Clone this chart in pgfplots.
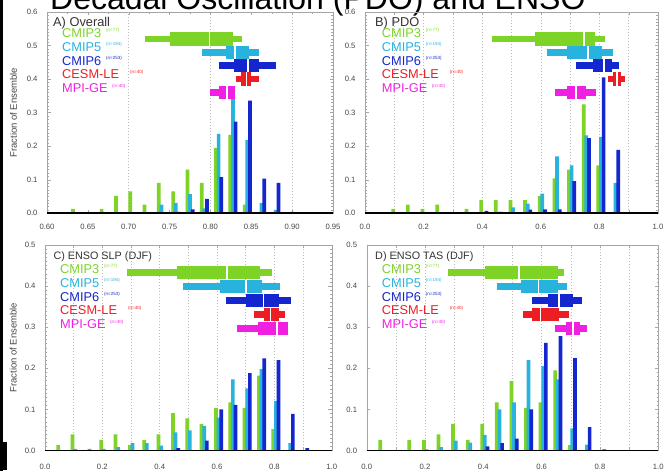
\documentclass[border=0pt]{standalone}
\usepackage{fontspec}
\setmainfont{Liberation Sans}
\usepackage{pgfplots}
\pgfplotsset{compat=1.18}

\definecolor{cthree}{RGB}{125,211,38}
\definecolor{cfive}{RGB}{40,178,222}
\definecolor{csix}{RGB}{20,38,205}
\definecolor{ccesm}{RGB}{236,30,36}
\definecolor{cmpi}{RGB}{240,32,226}
\definecolor{framegray}{RGB}{165,165,165}
\definecolor{tickgray}{RGB}{70,70,70}

\pgfplotsset{
  panel/.style={
    scale only axis, clip=false, anchor=south west,
    axis line style={framegray, line width=0.4pt},
    tick style={framegray, line width=0.4pt},
    tick align=inside,
    major tick length=3.5pt, minor tick length=1.6pt,
    ticklabel style={font=\fontsize{7.7}{9}\selectfont, text=tickgray},
    /pgf/number format/assume math mode=true,
    xticklabel style={yshift=-7.5pt},
    yticklabel style={xshift=-6pt, /pgf/number format/fixed,
      /pgf/number format/fixed zerofill, /pgf/number format/precision=1},
    minor y tick num=9,
    grid style={gray!55, line width=0.5pt, dash pattern=on 0.8pt off 2.2pt},
    extra x tick labels={},
    extra x tick style={grid=major},
  },
  unitpanel/.style={
    panel, xmin=0, xmax=1,
    xtick={0,0.2,0.4,0.6,0.8,1}, minor x tick num=1,
    extra x ticks={0.1,0.2,0.3,0.4,0.5,0.6,0.7,0.8,0.9},
    xticklabel style={/pgf/number format/fixed, /pgf/number format/fixed zerofill,
      /pgf/number format/precision=1},
  },
  hist/.style={ybar, bar width=3.7pt, draw=none, fill=#1},
  fracl/.style={ylabel={Fraction of Ensemble},
    ylabel style={at={(axis description cs:#1,0.5)}, anchor=center,
      font=\fontsize{9.5}{11}\selectfont, text=tickgray}},
}

% letter-value box: colour, row, lower end, box start, median, box end, upper end
\newcommand{\lvbox}[7]{%
  \addplot[#1, line width=6.5pt] coordinates {(#3,#2) (#7,#2)};
  \addplot[#1, line width=13.5pt] coordinates {(#4,#2) (#6,#2)};
  \addplot[white, only marks, mark=|, mark size=6.75pt, mark options={line width=1.6pt}]
    coordinates {(#5,#2)};
}
\newcommand{\zeroline}[2]{%
  \addplot[black, line width=1.6pt] coordinates {(#1,0) (#2,0)};
}

\begin{document}
\begin{tikzpicture}
\begin{scope}[x=1pt, y=1pt]
\node[anchor=base west, inner sep=0pt, font=\fontsize{32}{36}\selectfont] at (50,461.5)
  {Decadal Oscillation (PDO) and ENSO};
\fill[black] (0,0) rectangle (3,471);
\fill[black] (0,1) rectangle (7,29);
\end{scope}

% ---------------- A) Overall ----------------
\begin{axis}[panel, at={(47pt,257.7pt)}, width=286pt, height=201.3pt,
  xmin=0.6, xmax=0.95, ymin=0, ymax=0.6,
  xtick={0.6,0.65,0.7,0.75,0.8,0.85,0.9,0.95}, minor x tick num=1,
  extra x ticks={0.7,0.8,0.9},
  xticklabel style={/pgf/number format/fixed, /pgf/number format/fixed zerofill,
    /pgf/number format/precision=2},
  ytick={0,0.1,0.2,0.3,0.4,0.5,0.6}, fracl=-0.117]
\addplot[hist=cthree, bar shift=-2.6pt] coordinates {
  (0.635,0.013) (0.67,0.013) (0.6875,0.052) (0.705,0.065) (0.7225,0.026) (0.74,0.091)
  (0.7575,0.065) (0.775,0.130) (0.7925,0.091) (0.81,0.195) (0.8275,0.234) (0.845,0.026)};
\addplot[hist=cfive, bar shift=0pt] coordinates {
  (0.74,0.026) (0.7575,0.031) (0.775,0.057) (0.7925,0.015) (0.81,0.237) (0.8275,0.355)
  (0.845,0.218) (0.8625,0.031) (0.88,0.010)};
\addplot[hist=csix, bar shift=2.7pt] coordinates {
  (0.7575,0.004) (0.775,0.012) (0.7925,0.043) (0.81,0.108) (0.8275,0.273) (0.845,0.336)
  (0.8625,0.103) (0.88,0.091) (0.8975,0.004)};
\zeroline{0.6}{0.95}
\lvbox{cthree}{0.52}{0.720}{0.750}{0.799}{0.828}{0.839}
\lvbox{cfive}{0.48}{0.790}{0.8195}{0.830}{0.847}{0.859}
\lvbox{csix}{0.44}{0.810}{0.829}{0.846}{0.860}{0.880}
\lvbox{ccesm}{0.40}{0.831}{0.838}{0.844}{0.850}{0.860}
\lvbox{cmpi}{0.36}{0.800}{0.811}{0.820}{0.830}{0.830}
\end{axis}

% ---------------- B) PDO ----------------
\begin{axis}[unitpanel, at={(365pt,257.7pt)}, width=293pt, height=201.3pt,
  ymin=0, ymax=0.6, ytick={0,0.1,0.2,0.3,0.4,0.5,0.6}]
\addplot[hist=cthree, bar shift=-1.1pt] coordinates {
  (0.10,0.013) (0.15,0.026) (0.20,0.013) (0.25,0.026) (0.35,0.013) (0.40,0.039)
  (0.45,0.039) (0.50,0.039) (0.55,0.039) (0.60,0.052) (0.65,0.104) (0.70,0.130)
  (0.75,0.325) (0.80,0.143)};
\addplot[hist=cfive, bar shift=1.5pt] coordinates {
  (0.40,0.004) (0.45,0.004) (0.50,0.018) (0.55,0.029) (0.60,0.059) (0.65,0.170)
  (0.70,0.143) (0.75,0.232) (0.80,0.228) (0.85,0.091)};
\addplot[hist=csix, bar shift=4.2pt] coordinates {
  (0.40,0.007) (0.45,0.004) (0.55,0.011) (0.60,0.012) (0.65,0.012) (0.70,0.096)
  (0.75,0.224) (0.80,0.405) (0.85,0.189)};
\zeroline{0}{1}
\lvbox{cthree}{0.52}{0.432}{0.580}{0.747}{0.785}{0.819}
\lvbox{cfive}{0.48}{0.620}{0.690}{0.762}{0.808}{0.848}
\lvbox{csix}{0.44}{0.720}{0.779}{0.816}{0.842}{0.868}
\lvbox{ccesm}{0.40}{0.830}{0.848}{0.860}{0.875}{0.888}
\lvbox{cmpi}{0.36}{0.650}{0.688}{0.720}{0.755}{0.790}
\end{axis}

% ---------------- C) ENSO SLP (DJF) ----------------
\begin{axis}[unitpanel, at={(45pt,20.5pt)}, width=286.7pt, height=205.5pt,
  ymin=0, ymax=0.5, ytick={0,0.1,0.2,0.3,0.4,0.5}, xticklabel style={yshift=-3pt},
  fracl=-0.111]
\addplot[hist=cthree, bar shift=-1.1pt] coordinates {
  (0.05,0.013) (0.10,0.039) (0.20,0.026) (0.25,0.039) (0.30,0.013) (0.35,0.026)
  (0.40,0.039) (0.45,0.091) (0.50,0.078) (0.55,0.065) (0.60,0.104) (0.65,0.117)
  (0.70,0.104) (0.75,0.182) (0.80,0.052)};
\addplot[hist=cfive, bar shift=1.5pt] coordinates {
  (0.10,0.004) (0.15,0.004) (0.20,0.004) (0.25,0.008) (0.30,0.018) (0.35,0.018)
  (0.40,0.012) (0.45,0.044) (0.50,0.049) (0.55,0.060) (0.60,0.080) (0.65,0.173)
  (0.70,0.151) (0.75,0.198) (0.80,0.121) (0.85,0.018)};
\addplot[hist=csix, bar shift=4.2pt] coordinates {
  (0.45,0.006) (0.55,0.024) (0.60,0.100) (0.65,0.111) (0.70,0.188) (0.75,0.224)
  (0.80,0.220) (0.85,0.089) (0.90,0.006)};
\zeroline{0}{1}
\lvbox{cthree}{0.433}{0.285}{0.459}{0.634}{0.750}{0.791}
\lvbox{cfive}{0.399}{0.482}{0.610}{0.701}{0.756}{0.820}
\lvbox{csix}{0.365}{0.631}{0.701}{0.762}{0.817}{0.857}
\lvbox{ccesm}{0.331}{0.729}{0.765}{0.787}{0.815}{0.837}
\lvbox{cmpi}{0.297}{0.671}{0.744}{0.810}{0.849}{0.849}
\end{axis}

% ---------------- D) ENSO TAS (DJF) ----------------
\begin{axis}[unitpanel, at={(366.7pt,20.5pt)}, width=291.6pt, height=205.5pt,
  ymin=0, ymax=0.5, ytick={0,0.1,0.2,0.3,0.4,0.5}, xticklabel style={yshift=-3pt}]
\addplot[hist=cthree, bar shift=-1.1pt] coordinates {
  (0.05,0.026) (0.15,0.026) (0.20,0.026) (0.25,0.039) (0.30,0.065) (0.35,0.026)
  (0.40,0.065) (0.45,0.117) (0.50,0.169) (0.55,0.104) (0.60,0.117) (0.65,0.195)
  (0.70,0.013)};
\addplot[hist=cfive, bar shift=1.5pt] coordinates {
  (0.20,0.003) (0.25,0.008) (0.30,0.024) (0.35,0.019) (0.40,0.038) (0.45,0.100)
  (0.50,0.117) (0.55,0.220) (0.60,0.205) (0.65,0.173) (0.70,0.054) (0.75,0.014)};
\addplot[hist=csix, bar shift=4.2pt] coordinates {
  (0.40,0.010) (0.45,0.018) (0.50,0.029) (0.55,0.100) (0.60,0.262) (0.65,0.278)
  (0.70,0.225) (0.75,0.057) (0.80,0.003)};
\zeroline{0}{1}
\lvbox{cthree}{0.433}{0.280}{0.406}{0.523}{0.657}{0.677}
\lvbox{cfive}{0.399}{0.446}{0.528}{0.589}{0.657}{0.686}
\lvbox{csix}{0.365}{0.566}{0.623}{0.660}{0.706}{0.737}
\lvbox{ccesm}{0.331}{0.537}{0.566}{0.596}{0.660}{0.695}
\lvbox{cmpi}{0.297}{0.646}{0.683}{0.708}{0.731}{0.757}
\end{axis}

% panel titles and ensemble names
\begin{scope}[x=1pt, y=1pt]
\tikzset{
  ptitle/.style={anchor=base west, inner sep=0pt, text=black!80, font=\fontsize{12.8}{14}\selectfont},
  mname/.style={anchor=base west, inner sep=0pt, text=#1, font=\fontsize{12.8}{14}\selectfont},
  nsup/.style={anchor=north west, inner sep=0pt, text=#1, font=\fontsize{4.5}{5}\selectfont},
}
\node[ptitle] at (53,444.5) {A) Overall};
\node[ptitle] at (375,444.5) {B) PDO};
\node[ptitle, font=\fontsize{10.8}{12}\selectfont] at (53.3,211.5) {C) ENSO SLP (DJF)};
\node[ptitle, font=\fontsize{10.8}{12}\selectfont] at (375,211.5) {D) ENSO TAS (DJF)};
\foreach \lx/\by in {62/433.7, 381.7/433.7, 60/197.7, 381.7/197.7} {
  \node[mname=cthree] at (\lx,\by) {CMIP3};
  \node[mname=cfive] at (\lx,\by-13.9) {CMIP5};
  \node[mname=csix] at (\lx,\by-27.8) {CMIP6};
  \node[mname=ccesm] at (\lx,\by-41.7) {CESM-LE};
  \node[mname=cmpi] at (\lx,\by-55.6) {MPI-GE};
  \node[nsup=cthree] at (\lx+44,\by+8.8) {(n=77)};
  \node[nsup=cfive] at (\lx+44,\by-13.9+8.8) {(n=194)};
  \node[nsup=csix] at (\lx+44,\by-27.8+8.8) {(n=253)};
  \node[nsup=ccesm] at (\lx+68,\by-41.7+8.8) {(n=40)};
  \node[nsup=cmpi] at (\lx+50,\by-55.6+8.8) {(n=40)};
}
\pgfresetboundingbox
\useasboundingbox (0,0) rectangle (667,471);
\end{scope}
\end{tikzpicture}
\end{document}
